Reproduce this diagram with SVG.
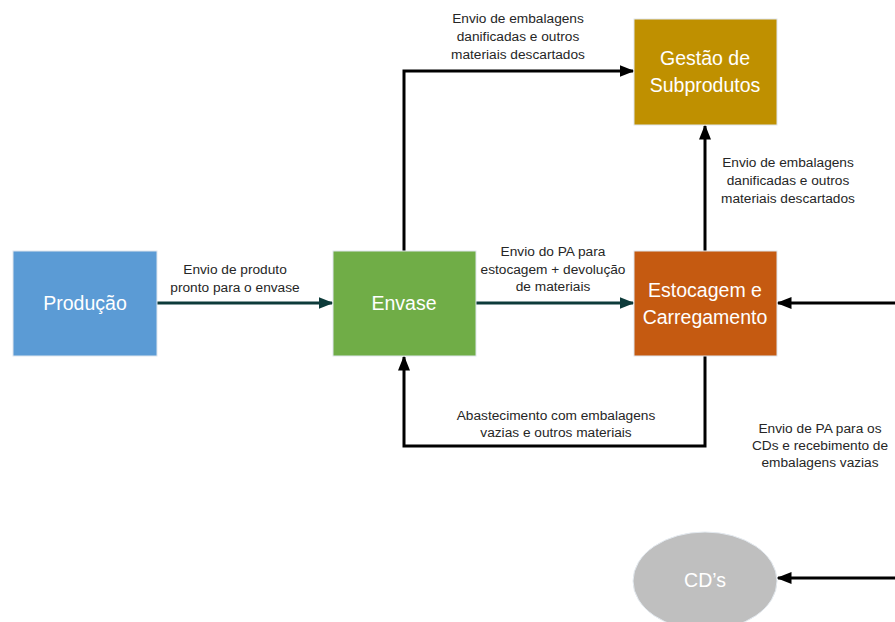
<svg xmlns="http://www.w3.org/2000/svg" width="895" height="622" viewBox="0 0 895 622">
<style>
.box{stroke:#dfe6ee;stroke-width:1}
.bt{font-family:"Liberation Sans",Arial,sans-serif;font-size:19.5px;fill:#ffffff;text-anchor:middle}
.lb{font-family:"Liberation Sans",Arial,sans-serif;font-size:13.7px;fill:#262626;text-anchor:middle}
.k{fill:none;stroke:#000;stroke-width:3}
.t{fill:none;stroke:#0d3b3a;stroke-width:3}
</style>
<defs>
<marker id="ak" markerWidth="5" markerHeight="4" refX="4.5" refY="2" orient="auto" markerUnits="strokeWidth"><path d="M0,0 L5,2 L0,4 z" fill="#000"/></marker>
<marker id="at" markerWidth="5" markerHeight="4" refX="4.5" refY="2" orient="auto" markerUnits="strokeWidth"><path d="M0,0 L5,2 L0,4 z" fill="#0d3b3a"/></marker>
</defs>
<rect width="895" height="622" fill="#fff"/>
<g id="connectors">
<path class="t" d="M157,303 H332" marker-end="url(#at)"/>
<path class="t" d="M476,303 H633" marker-end="url(#at)"/>
<path class="k" d="M404,251 V71 H633" marker-end="url(#ak)"/>
<path class="k" d="M705,251 V126" marker-end="url(#ak)"/>
<path class="k" d="M705,356 V446 H404 V357" marker-end="url(#ak)"/>
<path class="k" d="M895,303 H778" marker-end="url(#ak)"/>
<path class="k" d="M895,578 H778" marker-end="url(#ak)"/>
</g>
<g id="labels">
<text class="lb" x="518" y="23">Envio de embalagens</text>
<text class="lb" x="518" y="41">danificadas e outros</text>
<text class="lb" x="518" y="59">materiais descartados</text>
<text class="lb" x="235" y="274">Envio de produto</text>
<text class="lb" x="235" y="292">pronto para o envase</text>
<text class="lb" x="553" y="256">Envio do PA para</text>
<text class="lb" x="553" y="274">estocagem + devolução</text>
<text class="lb" x="553" y="291">de materiais</text>
<text class="lb" x="788" y="167">Envio de embalagens</text>
<text class="lb" x="788" y="185">danificadas e outros</text>
<text class="lb" x="788" y="203">materiais descartados</text>
<text class="lb" x="556" y="420">Abastecimento com embalagens</text>
<text class="lb" x="556" y="437">vazias e outros materiais</text>
<text class="lb" x="820" y="433">Envio de PA para os</text>
<text class="lb" x="820" y="450">CDs e recebimento de</text>
<text class="lb" x="820" y="467">embalagens vazias</text>
</g>
<g id="producao">
<rect class="box" x="13" y="251" width="144" height="105" fill="#5b9bd5"/>
<text class="bt" x="85" y="310">Produção</text>
</g>
<g id="envase">
<rect class="box" x="333" y="251" width="143" height="105" fill="#70ad47"/>
<text class="bt" x="404" y="310">Envase</text>
</g>
<g id="estocagem">
<rect class="box" x="634" y="251" width="143" height="105" fill="#c55a11"/>
<text class="bt" x="705" y="297">Estocagem e</text>
<text class="bt" x="705" y="324">Carregamento</text>
</g>
<g id="gestao">
<rect class="box" x="634" y="19" width="143" height="106" fill="#bf9000"/>
<text class="bt" x="705" y="65">Gestão de</text>
<text class="bt" x="705" y="92">Subprodutos</text>
</g>
<g id="cds">
<ellipse cx="705" cy="581" rx="72" ry="49" fill="#bfbfbf" stroke="#e4eaf0" stroke-width="1"/>
<text class="bt" x="705" y="587">CD’s</text>
</g>
</svg>
